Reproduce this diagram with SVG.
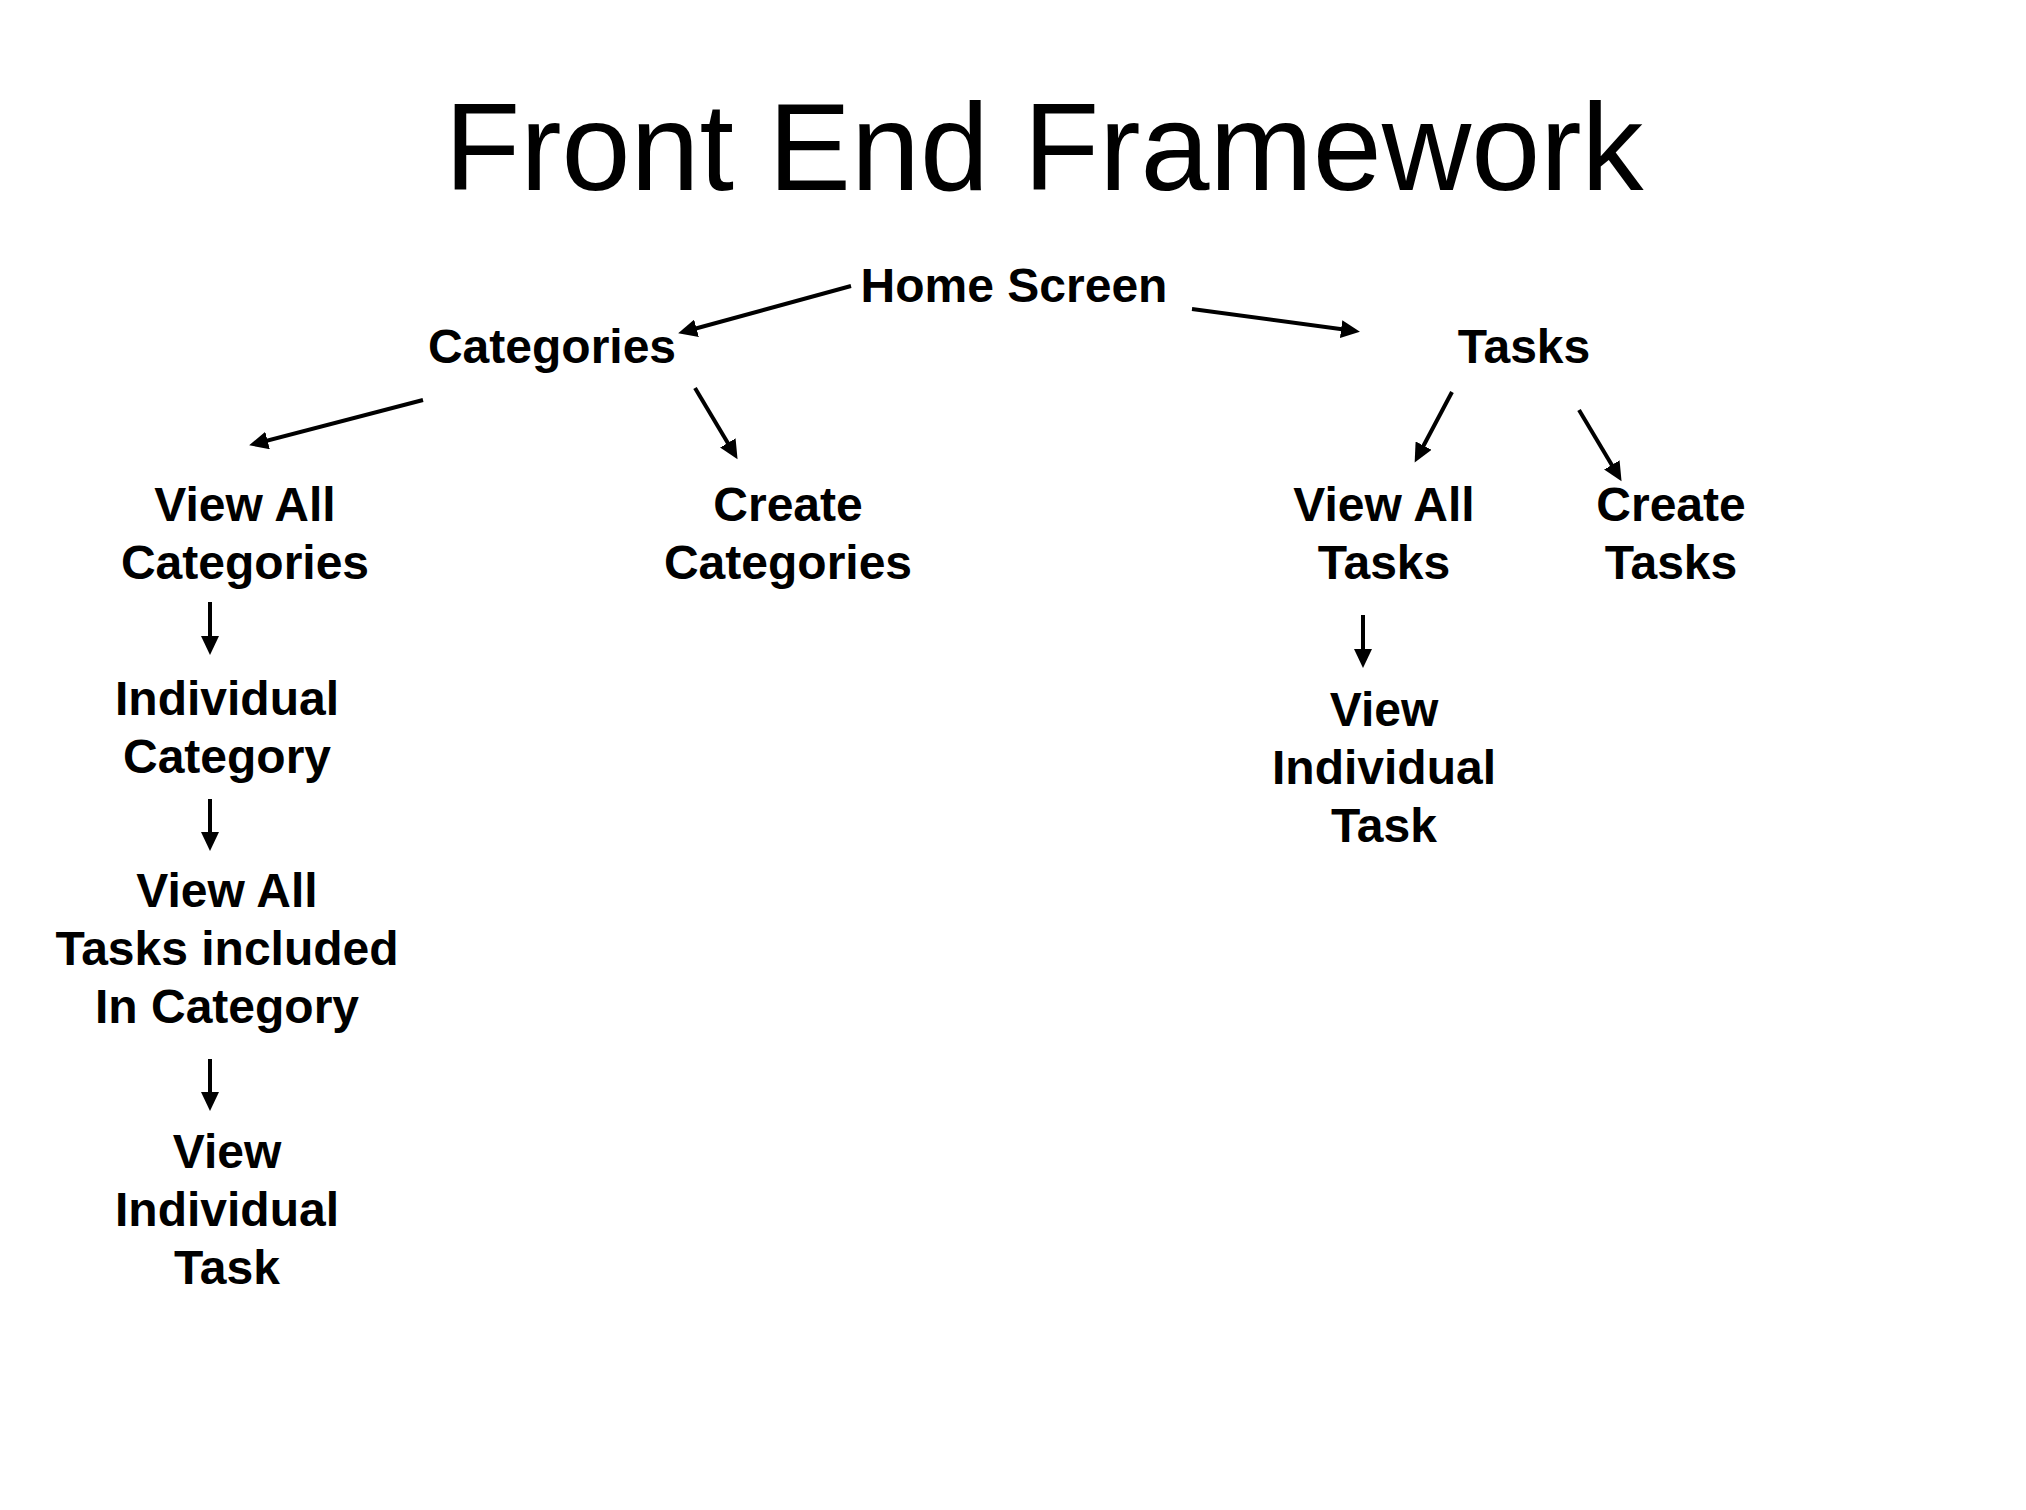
<svg xmlns="http://www.w3.org/2000/svg" width="2026" height="1510" viewBox="0 0 2026 1510">
<defs>
<marker id="ah" markerUnits="userSpaceOnUse" markerWidth="20" markerHeight="18" refX="14" refY="9" orient="auto">
<path d="M0,0 L19,9 L0,18 Z" fill="#000"/>
</marker>
</defs>
<style>
.t{font-family:"Liberation Sans",Arial,Helvetica,sans-serif;font-weight:bold;font-size:48px;fill:#000;text-anchor:middle}
.title{font-family:"Liberation Sans",Arial,Helvetica,sans-serif;font-size:124px;fill:#000;text-anchor:middle}
.c{stroke:#000;stroke-width:4;fill:none;marker-end:url(#ah)}
</style>
<rect width="2026" height="1510" fill="#fff"/>
<text class="title" x="1044" y="190">Front End Framework</text>
<g id="home"><text class="t" x="1014" y="302">Home Screen</text></g>
<g id="categories"><text class="t" x="552" y="363">Categories</text></g>
<g id="tasks"><text class="t" x="1524" y="363">Tasks</text></g>
<g id="viewAllCategories"><text class="t" x="245" y="521">View All</text><text class="t" x="245" y="579">Categories</text></g>
<g id="createCategories"><text class="t" x="788" y="521">Create</text><text class="t" x="788" y="579">Categories</text></g>
<g id="viewAllTasks"><text class="t" x="1384" y="521">View All</text><text class="t" x="1384" y="579">Tasks</text></g>
<g id="createTasks"><text class="t" x="1671" y="521">Create</text><text class="t" x="1671" y="579">Tasks</text></g>
<g id="individualCategory"><text class="t" x="227" y="715">Individual</text><text class="t" x="227" y="773">Category</text></g>
<g id="viewTasksInCategory"><text class="t" x="227" y="907">View All</text><text class="t" x="227" y="965">Tasks included</text><text class="t" x="227" y="1023">In Category</text></g>
<g id="viewIndividualTaskL"><text class="t" x="227" y="1168">View</text><text class="t" x="227" y="1226">Individual</text><text class="t" x="227" y="1284">Task</text></g>
<g id="viewIndividualTaskR"><text class="t" x="1384" y="726">View</text><text class="t" x="1384" y="784">Individual</text><text class="t" x="1384" y="842">Task</text></g>
<g id="connectors">
<line class="c" x1="851" y1="286" x2="683" y2="332"/>
<line class="c" x1="1192" y1="309" x2="1355" y2="331"/>
<line class="c" x1="423" y1="400" x2="254" y2="444"/>
<line class="c" x1="695" y1="388" x2="735" y2="455"/>
<line class="c" x1="1452" y1="392" x2="1417" y2="458"/>
<line class="c" x1="1579" y1="410" x2="1619" y2="477"/>
<line class="c" x1="210" y1="602" x2="210" y2="650"/>
<line class="c" x1="210" y1="799" x2="210" y2="846"/>
<line class="c" x1="210" y1="1059" x2="210" y2="1106"/>
<line class="c" x1="1363" y1="615" x2="1363" y2="663"/>
</g>
</svg>
